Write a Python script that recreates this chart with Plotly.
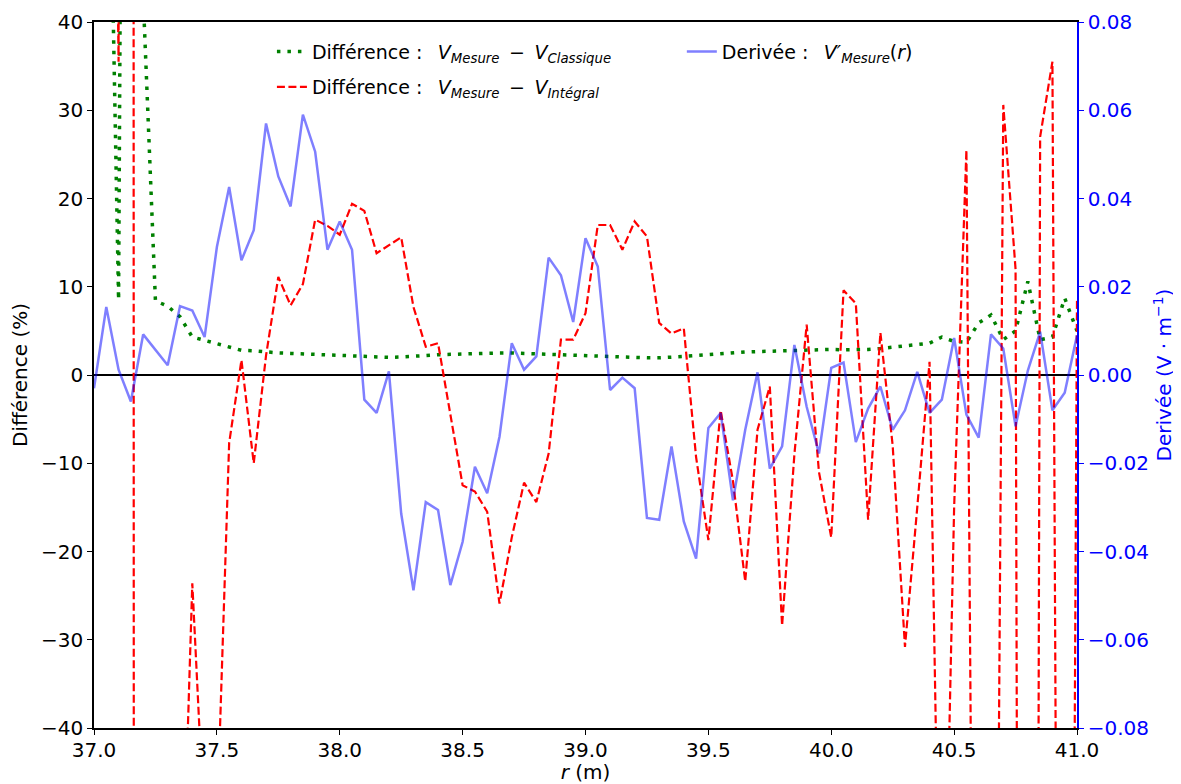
import plotly.graph_objects as go

# r grid (m)
r = [37.00, 37.05, 37.10, 37.15, 37.20, 37.25, 37.30, 37.35, 37.40, 37.45,
     37.50, 37.55, 37.60, 37.65, 37.70, 37.75, 37.80, 37.85, 37.90, 37.95,
     38.00, 38.05, 38.10, 38.15, 38.20, 38.25, 38.30, 38.35, 38.40, 38.45,
     38.50, 38.55, 38.60, 38.65, 38.70, 38.75, 38.80, 38.85, 38.90, 38.95,
     39.00, 39.05, 39.10, 39.15, 39.20, 39.25, 39.30, 39.35, 39.40, 39.45,
     39.50, 39.55, 39.60, 39.65, 39.70, 39.75, 39.80, 39.85, 39.90, 39.95,
     40.00, 40.05, 40.10, 40.15, 40.20, 40.25, 40.30, 40.35, 40.40, 40.45,
     40.50, 40.55, 40.60, 40.65, 40.70, 40.75, 40.80, 40.85, 40.90, 40.95,
     41.00]

# Différence V_Mesure - V_Classique (%)
diff_classique = [120, 82, 8.5, 270, 43, 8.4, 7.8, 6.6, 4.3, 3.9,
                  3.5, 3.1, 2.8, 2.75, 2.6, 2.5, 2.45, 2.4, 2.3, 2.25,
                  2.2, 2.15, 2.1, 2.05, 2.0, 2.05, 2.1, 2.2, 2.3, 2.35,
                  2.4, 2.4, 2.45, 2.5, 2.5, 2.45, 2.35, 2.3, 2.25, 2.2,
                  2.2, 2.15, 2.1, 2.05, 2.0, 1.95, 1.95, 2.0, 2.1, 2.2,
                  2.3, 2.45, 2.5, 2.6, 2.65, 2.7, 2.75, 2.8, 2.85, 2.9,
                  2.9, 2.85, 2.85, 2.9, 3.0, 3.15, 3.3, 3.5, 3.6, 4.3,
                  3.8, 3.7, 5.9, 6.8, 4.0, 5.0, 10.6, 4.0, 4.3, 8.7,
                  5.0]

# Différence V_Mesure - V_Intégral (%)
diff_integral = [200, 150, 35.5, 1500, -5000, -2000, -400, -69, -23.6, -52,
                 -51, -7.7, 1.7, -10.0, 2.2, 11.1, 7.9, 10.3, 17.6, 16.9,
                 15.9, 19.4, 18.6, 13.8, 14.7, 15.6, 7.7, 3.2, 3.6, -4.5,
                 -12.5, -13.2, -15.5, -25.9, -18.4, -12.2, -14.4, -8.9, 4.0, 4.0,
                 7.0, 17.0, 17.0, 14.2, 17.4, 15.7, 5.9, 4.7, 5.3, -9.3,
                 -18.7, -4.0, -12.0, -23.4, -6.2, -1.3, -28.4, -9.0, 5.7, -11.0,
                 -18.4, 9.6, 8.1, -16.4, 4.8, -8.0, -30.8, -15.0, 1.5, -80,
                 -15.0, 25.5, -162, -171, 30.6, 12.0, -500, 27.0, 35.5, -255,
                 8.5]

# Derivée V'_Mesure(r) (V/m)
derivee = [-0.0030, 0.0154, 0.0012, -0.0060, 0.0092, 0.0056, 0.0022, 0.0156, 0.0146, 0.0086,
           0.0290, 0.0426, 0.0260, 0.0328, 0.0570, 0.0450, 0.0382, 0.0590, 0.0506, 0.0284,
           0.0348, 0.0284, -0.0056, -0.0086, 0.0008, -0.0314, -0.0488, -0.0288, -0.0306, -0.0476,
           -0.0378, -0.0208, -0.0268, -0.0140, 0.0072, 0.0012, 0.0042, 0.0266, 0.0226, 0.0120,
           0.0310, 0.0246, -0.0034, -0.0006, -0.0030, -0.0324, -0.0328, -0.0162, -0.0332, -0.0416,
           -0.0120, -0.0086, -0.0284, -0.0124, 0.0006, -0.0212, -0.0162, 0.0068, -0.0072, -0.0178,
           0.0016, 0.0028, -0.0152, -0.0076, -0.0026, -0.0124, -0.0080, 0.0007, -0.0086, -0.0056,
           0.0084, -0.0090, -0.0142, 0.0092, 0.0060, -0.0116, 0.0010, 0.0098, -0.0080, -0.0040,
           0.0090]

FONT = "DejaVu Sans"
SP = "\u2002"  # en space for math-like spacing

fig = go.Figure()
fig.add_trace(go.Scatter(
    x=r, y=diff_classique, mode="lines", yaxis="y",
    line=dict(color="#008000", width=3.5, dash="3.5px,7px"),
    name=f"Différence :{SP} <i>V</i><sub><i>Mesure</i></sub>{SP}−{SP}<i>V</i><sub><i>Classique</i></sub>",
    legend="legend"))
fig.add_trace(go.Scatter(
    x=r, y=diff_integral, mode="lines", yaxis="y",
    line=dict(color="#ff0000", width=2.2, dash="8px,3.5px"),
    name=f"Différence :{SP} <i>V</i><sub><i>Mesure</i></sub>{SP}−{SP}<i>V</i><sub><i>Intégral</i></sub>",
    legend="legend2"))
fig.add_trace(go.Scatter(
    x=r, y=derivee, mode="lines", yaxis="y2",
    line=dict(color="rgba(0,0,255,0.5)", width=2.5),
    name=f"Derivée :{SP} <i>V′</i><sub><i>Mesure</i></sub>(<i>r</i>)",
    legend="legend3"))

leg_common = dict(font=dict(family=FONT, size=19, color="black"),
                  bgcolor="rgba(0,0,0,0)", borderwidth=0,
                  xanchor="left", yanchor="middle")

# The page body adds an 8px offset; the figure is sized so the plot area
# lands where the reference has it.
fig.update_layout(
    width=1173, height=776,
    margin=dict(l=86, r=104, t=14, b=56, autoexpand=False),
    paper_bgcolor="white", plot_bgcolor="white",
    font=dict(family=FONT, size=20, color="black"),
    showlegend=True,
    legend=dict(x=0.181, y=0.958, **leg_common),
    legend2=dict(x=0.181, y=0.908, **leg_common),
    legend3=dict(x=0.598, y=0.958, **leg_common),
    xaxis=dict(range=[37, 41], dtick=0.5, tick0=37, tickformat=".1f",
               automargin=False,
               showgrid=False, zeroline=False,
               showline=True, linecolor="black", linewidth=1.5, mirror=True,
               ticks="outside", ticklen=5, tickwidth=1.2, tickcolor="black",
               ticklabelstandoff=-2,
               tickfont=dict(family=FONT, size=20, color="black"),
               title=dict(text="<i>r</i> (m)", standoff=7,
                          font=dict(family=FONT, size=20, color="black"))),
    yaxis=dict(range=[-40, 40], dtick=10, tick0=0,
               automargin=False,
               showgrid=False, zeroline=True, zerolinecolor="black", zerolinewidth=1.8,
               showline=True, linecolor="black", linewidth=1.5,
               ticks="outside", ticklen=5, tickwidth=1.2, tickcolor="black",
               tickfont=dict(family=FONT, size=20, color="black"),
               title=dict(text="Différence (%)", standoff=16,
                          font=dict(family=FONT, size=20, color="black"))),
    yaxis2=dict(range=[-0.08, 0.08], dtick=0.02, tick0=0, tickformat=".2f",
                automargin=False,
                overlaying="y", side="right",
                showgrid=False, zeroline=False,
                showline=True, linecolor="blue", linewidth=1.5,
                ticks="outside", ticklen=5, tickwidth=1.2, tickcolor="blue",
                tickfont=dict(family=FONT, size=20, color="blue"),
                title=dict(text="Derivée (V · m<sup>−1</sup>)", standoff=9,
                           font=dict(family=FONT, size=20, color="blue"))),
)

fig.write_html("out.html")
